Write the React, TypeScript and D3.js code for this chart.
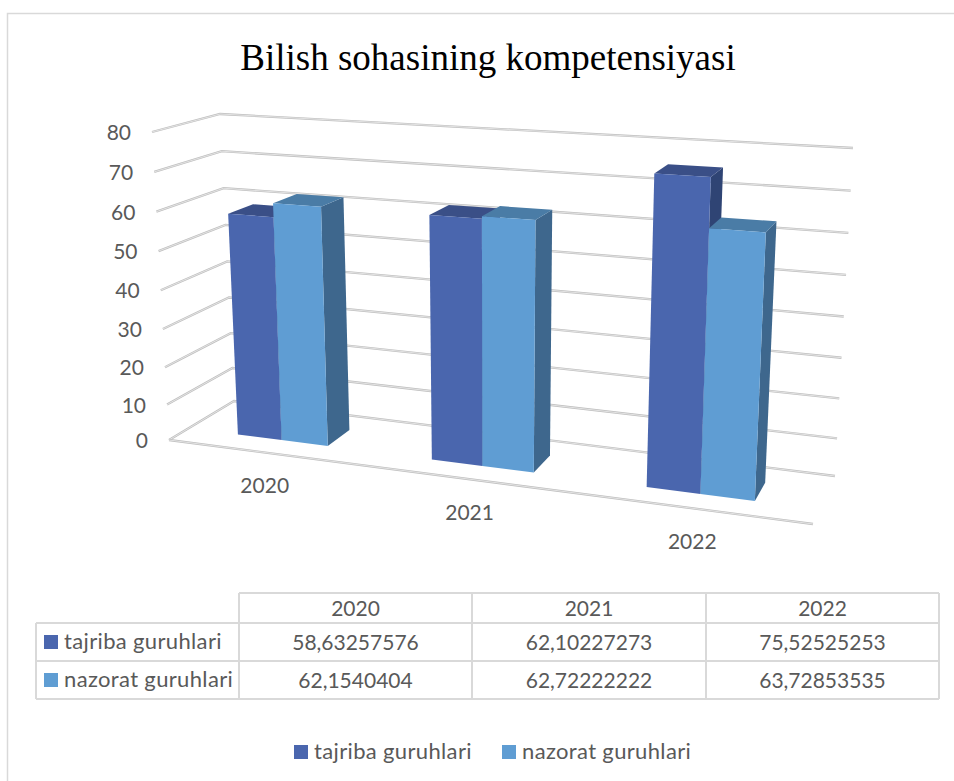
import React from "react";
import * as d3 from "d3";

const title = "Bilish sohasining kompetensiyasi";
const years = ["2020", "2021", "2022"];
const seriesNames = ["tajriba guruhlari", "nazorat guruhlari"];
const tajriba = [58.63257576, 62.10227273, 75.52525253];
const nazorat = [62.1540404, 62.72222222, 63.72853535];
const tajribaLabels = ["58,63257576", "62,10227273", "75,52525253"];
const nazoratLabels = ["62,1540404", "62,72222222", "63,72853535"];
const yTicks = [0, 10, 20, 30, 40, 50, 60, 70, 80];

const width = 954;
const height = 781;

// corners of the 3D box on screen, f = front, b = back, l = left, r = right
const floor = { fl: [169, 440], fr: [813, 524], bl: [234, 401], br: [835, 476] };
const roof = { fl: [152, 132], fr: [830, 172], bl: [220, 114], br: [853, 148] };

// the small powers fake the perspective along the two axes
const vScale = d3.scalePow().exponent(1.04).domain([0, 80]).range([0, 1]);
const uWarp = d3.scalePow().exponent(1.12).domain([0, 1]).range([0, 1]);

const lerp = (a: number, b: number, t: number) => a + (b - a) * t;

// u: 0..1 along the categories, v: value, w: 0..1 from front to back
const project = (u: number, v: number, w: number): [number, number] => {
  const t = vScale(v);
  const k = uWarp(u);
  const at = (i: number) => {
    const bottom = lerp(lerp(floor.fl[i], floor.fr[i], k), lerp(floor.bl[i], floor.br[i], k), w);
    const top = lerp(lerp(roof.fl[i], roof.fr[i], k), lerp(roof.bl[i], roof.br[i], k), w);
    return lerp(bottom, top, t);
  };
  return [at(0), at(1)];
};

const catScale = d3.scaleBand().domain(years).range([0.005, 1.005]).paddingInner(0.517).paddingOuter(0.3);
const serScale = d3.scaleBand().domain(seriesNames).range([0, catScale.bandwidth()]);
const barFront = 0.305;
const barBack = 0.695;

const colors = [
  { front: "#4a66ae", top: "#3a4f87", side: "#2f4474" },
  { front: "#5f9dd3", top: "#4a7ca6", side: "#3e678d" },
];

const line = d3.line();
const poly = (pts: [number, number][]) => line(pts) + "Z";

// table grid
const colX = [239, 472, 706, 939];
const rowY = [593, 623, 661, 699];
const tableLeft = 36;
const gridColor = "#d9d9d9";
const textColor = "#595959";
const font = "Lato, Carlito, sans-serif";

const GridLine = ({ pts }: { pts: [number, number][] }) => (
  <g fill="none">
    <path d={line(pts)!} stroke="#bfbfbf" strokeWidth={2.3} />
    <path d={line(pts)!} stroke="#f2f2f2" strokeWidth={0.7} />
  </g>
);

export default function App() {
  const values = [tajriba, nazorat];
  return (
    <svg
      width={width}
      height={height}
      style={{ position: "absolute", left: 0, top: 0, background: "#fff" }}
    >
      {/* chart frame */}
      <path d={`M7.5,${height}V13.5H${width}`} fill="none" stroke="#d9d9d9" strokeWidth={1.5} />

      <text
        x={488}
        y={70}
        textAnchor="middle"
        fontFamily="'Liberation Serif', serif"
        fontSize={37}
        fill="#000"
      >
        {title}
      </text>

      {/* walls */}
      {yTicks.map((t) => (
        <g key={t}>
          <GridLine pts={[project(0, t, 0), project(0, t, 1), project(1, t, 1)]} />
          <text
            x={project(0, t, 0)[0] - 21}
            y={project(0, t, 0)[1] + 8}
            textAnchor="end"
            fontFamily={font}
            fontSize={21}
            fill={textColor}
          >
            {t}
          </text>
        </g>
      ))}
      <GridLine pts={[project(0, 0, 0), project(1, 0, 0)]} />

      {/* bars */}
      {years.map((year, i) =>
        seriesNames.map((name, s) => {
          const u0 = catScale(year)! + serScale(name)!;
          const u1 = u0 + serScale.bandwidth();
          const v = values[s][i];
          const c = colors[s];
          return (
            <g key={year + name}>
              <path
                d={poly([project(u1, 0, barFront), project(u1, 0, barBack), project(u1, v, barBack), project(u1, v, barFront)])}
                fill={c.side}
              />
              <path
                d={poly([project(u0, v, barFront), project(u1, v, barFront), project(u1, v, barBack), project(u0, v, barBack)])}
                fill={c.top}
              />
              <path
                d={poly([project(u0, 0, barFront), project(u1, 0, barFront), project(u1, v, barFront), project(u0, v, barFront)])}
                fill={c.front}
              />
            </g>
          );
        })
      )}

      {/* category labels */}
      {years.map((year) => {
        const [x, y] = project(catScale(year)! + catScale.bandwidth() / 2, 0, 0);
        return (
          <text key={year} x={x + 1} y={y + 41} textAnchor="middle" fontFamily={font} fontSize={21} fill={textColor}>
            {year}
          </text>
        );
      })}

      {/* data table */}
      <g stroke={gridColor} strokeWidth={2} fill="none">
        <path d={`M${colX[0]},${rowY[0]}H${colX[3]}`} />
        <path d={`M${tableLeft},${rowY[1]}H${colX[3]}`} />
        <path d={`M${tableLeft},${rowY[2]}H${colX[3]}`} />
        <path d={`M${tableLeft},${rowY[3]}H${colX[3]}`} />
        <path d={`M${tableLeft},${rowY[1]}V${rowY[3]}`} />
        {colX.map((x) => (
          <path key={x} d={`M${x},${rowY[0]}V${rowY[3]}`} />
        ))}
      </g>
      {years.map((year, i) => {
        const cx = (colX[i] + colX[i + 1]) / 2;
        return (
          <g key={year} fontFamily={font} fontSize={21} fill={textColor} textAnchor="middle">
            <text x={cx} y={rowY[0] + 23}>{year}</text>
            <text x={cx} y={rowY[1] + 27}>{tajribaLabels[i]}</text>
            <text x={cx} y={rowY[2] + 27}>{nazoratLabels[i]}</text>
          </g>
        );
      })}
      {seriesNames.map((name, s) => (
        <g key={name} fontFamily={font} fontSize={22} letterSpacing={0.35} fill={textColor}>
          <rect x={44} y={rowY[s + 1] + 12} width={14} height={14} fill={colors[s].front} />
          <text x={64} y={rowY[s + 1] + 26}>{name}</text>
        </g>
      ))}

      {/* legend */}
      {seriesNames.map((name, s) => {
        const x = [294, 502][s];
        return (
          <g key={name} fontFamily={font} fontSize={22} letterSpacing={0.35} fill={textColor}>
            <rect x={x} y={745} width={14} height={14} fill={colors[s].front} />
            <text x={x + 20} y={759}>{name}</text>
          </g>
        );
      })}
    </svg>
  );
}
